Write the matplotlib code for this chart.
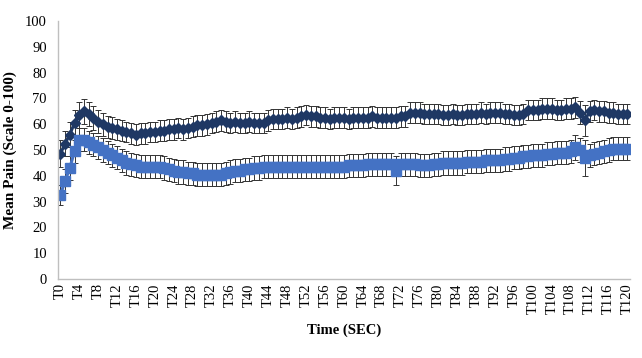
import matplotlib.pyplot as plt
import numpy as np

plt.rcParams['font.family'] = ['Liberation Serif', 'DejaVu Serif']

times = [f"T{i}" for i in range(121)]

# dark series (diamonds)
dark = [48.5, 52.5, 56, 60.5, 63.5, 65, 64, 62.5, 61, 60,
        59, 58.5, 58, 57.5, 57, 56.5, 56, 56.5, 56.5, 57,
        57, 57.5, 57.5, 58, 58, 58.5, 58, 58.5, 59, 59.5,
        59.5, 60, 60.5, 61, 61.5, 61, 60.5, 61, 60.5, 60.5,
        61, 60.5, 60.5, 60.5, 61.5, 62, 62, 62, 62.5, 62,
        62.5, 63, 63.5, 63, 63, 62.5, 62.5, 62, 62.5, 62.5,
        62.5, 62, 62.5, 62.5, 62.5, 62.5, 63, 62.5, 62.5, 62.5,
        62.5, 62.5, 63, 63, 64.5, 64.5, 64.5, 64, 64, 64,
        64, 63.5, 63.5, 64, 63.5, 63.5, 64, 64, 64, 64.5,
        64, 64.5, 64.5, 64.5, 64, 64, 63.5, 63.5, 64, 65.5,
        65.5, 65.5, 66, 66, 66, 65.5, 65.5, 66, 66, 66.5,
        64.5, 61.5, 65, 65.5, 65, 65, 64.5, 64.5, 64, 64,
        64]
dark_err = [5.2, 5, 5, 5, 5, 4.8, 4.8, 4.6, 4.5, 4.4,
            4.3, 4.2, 4.1, 4, 4, 4, 4, 4, 4, 4,
            4, 4, 4, 4, 4, 4, 4, 4, 4, 4,
            4, 4, 4, 4, 4, 4, 4, 4, 4, 4,
            4, 4, 4, 4, 4, 4, 4, 4, 4, 4,
            4, 4, 4, 4, 4, 4, 4, 4, 4, 4,
            4, 4, 4, 4, 4, 4, 4, 4, 4, 4,
            4, 4, 4, 4, 4, 4, 4, 4, 4, 4,
            4, 4, 4, 4, 4, 4, 4, 4, 4, 4,
            4, 4, 4, 4, 4, 4, 4, 4, 4, 4,
            4, 4, 4, 4, 4, 4, 4, 4, 4, 4,
            4.5, 6, 4, 4, 4, 4, 4, 4, 4, 4,
            4]

# light series (squares)
light = [32.5, 38, 43, 49.5, 54, 54, 53, 52, 51, 50,
         49, 48, 47, 46, 45, 44.5, 44, 43.5, 43.5, 43.5,
         43.5, 43.5, 43, 42.5, 42, 41.5, 41.5, 41, 41, 40.5,
         40.5, 40.5, 40.5, 40.5, 40.5, 41, 41.5, 42, 42, 42.5,
         42.5, 43, 43, 43.5, 43.5, 43.5, 43.5, 43.5, 43.5, 43.5,
         43.5, 43.5, 43.5, 43.5, 43.5, 43.5, 43.5, 43.5, 43.5, 43.5,
         43.5, 44, 44, 44, 44, 44.5, 44.5, 44.5, 44.5, 44.5,
         44.5, 42, 44.5, 44.5, 44.5, 44.5, 44, 44, 44, 44.5,
         44.5, 45, 45, 45, 45, 45, 45.5, 45.5, 45.5, 45.5,
         46, 46, 46, 46, 46.5, 46.5, 47, 47, 47.5, 47.5,
         48, 48, 48, 48.5, 48.5, 49, 49, 49, 49.5, 51,
         50, 47, 48, 48.5, 49, 49.5, 50, 50.5, 50.5, 50.5,
         50.5]
light_err = [4, 4.5, 4.5, 4.5, 4.5, 4.5, 4.5, 4.5, 4.5, 4.5,
             4.5, 4.5, 4.5, 4.5, 4.5, 4.5, 4.5, 4.5, 4.5, 4.5,
             4.5, 4.5, 4.5, 4.5, 4.5, 4.5, 4.5, 4.5, 4.5, 4.5,
             4.5, 4.5, 4.5, 4.5, 4.5, 4.5, 4.5, 4.5, 4.5, 4.5,
             4.5, 4.5, 4.5, 4.5, 4.5, 4.5, 4.5, 4.5, 4.5, 4.5,
             4.5, 4.5, 4.5, 4.5, 4.5, 4.5, 4.5, 4.5, 4.5, 4.5,
             4.5, 4.5, 4.5, 4.5, 4.5, 4.5, 4.5, 4.5, 4.5, 4.5,
             4.5, 5.5, 4.5, 4.5, 4.5, 4.5, 4.5, 4.5, 4.5, 4.5,
             4.5, 4.5, 4.5, 4.5, 4.5, 4.5, 4.5, 4.5, 4.5, 4.5,
             4.5, 4.5, 4.5, 4.5, 4.5, 4.5, 4.5, 4.5, 4.5, 4.5,
             4.5, 4.5, 4.5, 4.5, 4.5, 4.5, 4.5, 4.5, 4.5, 5,
             4.5, 7, 4.5, 4.5, 4.5, 4.5, 4.5, 4.5, 4.5, 4.5,
             4.5]

x = np.arange(len(times))

fig = plt.figure(figsize=(6.42, 3.58), dpi=100)
ax = fig.add_axes([0.0903, 0.2207, 0.8907, 0.7206])

ax.errorbar(x, dark, yerr=dark_err, color='#1F3864', marker='D', markersize=5,
            linewidth=2.2, ecolor='#333333', elinewidth=0.7, capsize=2.2, capthick=0.7)
ax.errorbar(x, light, yerr=light_err, color='#4472C4', marker='s', markersize=6.5,
            linewidth=2.2, ecolor='#333333', elinewidth=0.7, capsize=2.2, capthick=0.7)

ax.set_xlim(-0.5, len(times) - 0.5)
ax.set_ylim(0, 100)
ax.set_yticks(range(0, 101, 10))
ax.set_xticks(x[::4])
ax.set_xticklabels(times[::4], rotation=90)
ax.tick_params(length=0, labelsize=10.5)
ax.tick_params(axis='y', pad=8)
ax.tick_params(axis='x', pad=3)

for s in ['top', 'right']:
    ax.spines[s].set_visible(False)
for s in ['left', 'bottom']:
    ax.spines[s].set_color('#BFBFBF')
    ax.spines[s].set_linewidth(1)

ax.set_xlabel("Time (SEC)", fontsize=10.5, fontweight='bold', labelpad=7)
ax.set_ylabel("Mean Pain (Scale 0-100)", fontsize=11, fontweight='bold', labelpad=6)

fig.savefig('out.png', dpi=100)
